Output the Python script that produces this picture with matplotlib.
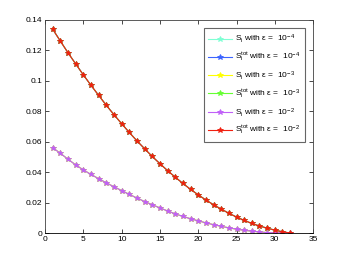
import matplotlib
matplotlib.use("Agg")
import matplotlib.pyplot as plt
import numpy as np

plt.rcParams['font.family'] = ['Liberation Sans', 'DejaVu Sans']
plt.rcParams['mathtext.fontset'] = 'custom'
plt.rcParams['mathtext.rm'] = 'Liberation Sans'
plt.rcParams['mathtext.it'] = 'Liberation Sans:italic'

# --------------------
# Data
# --------------------
x = np.arange(1, 33)

# first-order index S_i (same curve for all three epsilons)
s_first = [0.0561, 0.0524, 0.0485, 0.0448, 0.0415, 0.0385, 0.0357, 0.0330,
           0.0304, 0.0279, 0.0254, 0.0230, 0.0207, 0.0186, 0.0165, 0.0145,
           0.0126, 0.0109, 0.0094, 0.0080, 0.0067, 0.0055, 0.0044, 0.0034,
           0.0025, 0.0018, 0.0012, 0.0007, 0.0003, 0.0001, 0.0, 0.0]

# total index S_i^tot
s_total = [0.1340, 0.1262, 0.1185, 0.1112, 0.1040, 0.0971, 0.0905, 0.0840,
           0.0778, 0.0719, 0.0661, 0.0606, 0.0554, 0.0503, 0.0456, 0.0410,
           0.0367, 0.0326, 0.0287, 0.0251, 0.0217, 0.0186, 0.0157, 0.0130,
           0.0105, 0.0083, 0.0063, 0.0046, 0.0032, 0.0019, 0.0008, 0.0]

series = [
    (s_first, '#7fffd4', r'S$_\mathrm{i}$ with ε =  10$^{-4}$'),
    (s_total, '#3c64ff', r'S$_\mathrm{i}^\mathrm{tot}$ with ε =  10$^{-4}$'),
    (s_first, '#ffff00', r'S$_\mathrm{i}$ with ε =  10$^{-3}$'),
    (s_total, '#66ff33', r'S$_\mathrm{i}^\mathrm{tot}$ with ε =  10$^{-3}$'),
    (s_first, '#c060f8', r'S$_\mathrm{i}$ with ε =  10$^{-2}$'),
    (s_total, '#f02010', r'S$_\mathrm{i}^\mathrm{tot}$ with ε =  10$^{-2}$'),
]

# --------------------
# Plot
# --------------------
fig = plt.figure(figsize=(3.46, 2.63), dpi=100)
ax = fig.add_axes([0.13, 0.114, 0.775, 0.81])

for vals, col, lab in series:
    ax.plot(x, vals, color=col, marker='*', markersize=3.8, linewidth=0.8,
            markeredgewidth=0.6, label=lab)

ax.set_xlim(0, 35)
ax.set_ylim(0, 0.14)
ax.set_xticks(np.arange(0, 36, 5))
ax.set_yticks(np.arange(0, 0.141, 0.02))
ax.set_yticklabels(['0', '0.02', '0.04', '0.06', '0.08', '0.1', '0.12', '0.14'])

ax.tick_params(direction='in', length=3, width=0.5, labelsize=6,
               top=True, right=True, pad=2)
for sp in ax.spines.values():
    sp.set_linewidth(0.6)
    sp.set_color('#404040')
ax.spines['bottom'].set_color('black')

leg = ax.legend(loc='upper right', fontsize=6, frameon=True, fancybox=False,
                borderaxespad=1.0, handlelength=2.9, labelspacing=0.65,
                borderpad=0.55, handletextpad=0.3)
leg.get_frame().set_edgecolor('#404040')
leg.get_frame().set_linewidth(0.8)

fig.savefig('out.png', dpi=100)
